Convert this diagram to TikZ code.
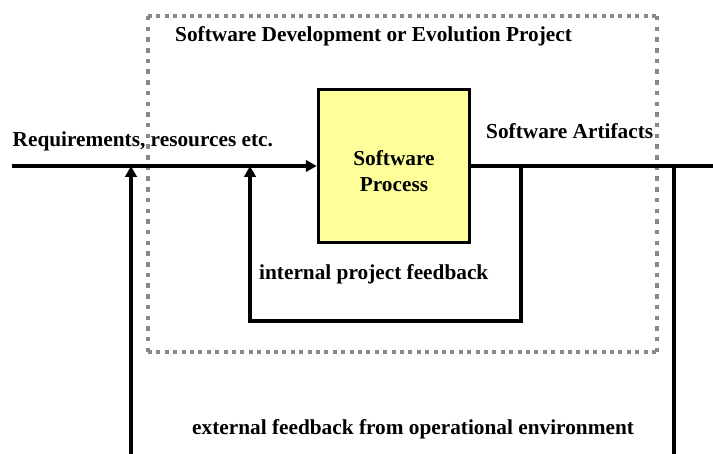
\documentclass[tikz,border=0pt]{standalone}
\usepackage{fontspec}
\setmainfont{Liberation Serif}
\usetikzlibrary{arrows.meta}
\definecolor{procfill}{RGB}{255,255,153}
\definecolor{projgray}{RGB}{136,136,136}
\begin{document}
\begin{tikzpicture}[x=1pt,y=-1pt,
  flow/.style={line width=3.3pt,line join=miter,draw=black},
  arr/.style={flow,-{Triangle[length=11pt,width=11.5pt]}},
  projh/.style={draw=projgray,line width=4pt,dash pattern=on 4pt off 4.4pt},
  projv/.style={draw=projgray,line width=4.3pt,dash pattern=on 4.5pt off 6.2pt},
  lbl/.style={font=\fontsize{21.3}{25.5}\selectfont\bfseries,inner sep=0pt,anchor=base west},
  procbox/.style={draw=black,line width=3.5pt,fill=procfill,minimum width=151pt,
    minimum height=153pt,inner sep=0pt},
  proctext/.style={align=center,inner sep=0pt,
    font=\fontsize{21.3}{25.5}\selectfont\bfseries}]
\useasboundingbox (0,0) rectangle (713,454);

% project boundary: dotted frame
\coordinate (pTL) at (148,16);
\coordinate (pTR) at (657,16);
\coordinate (pBL) at (148,352);
\coordinate (pBR) at (657,352);
\draw[projh] (pTL) -- (pTR);
\draw[projh] (pBL) -- (pBR);
\draw[projv] (pTL) -- (pBL);
\draw[projv] (pTR) -- (pBR);

% process box
\node[procbox] (proc) at (394,166) {};
\node[proctext] (proclbl) at (394,171) {Software\\Process};

% connector end points
\coordinate (reqstart) at (12,166);
\coordinate (outend) at (713,166);
\coordinate (fbR) at (521,166);
\coordinate (fbL) at (250,166);
\coordinate (fbBot) at (250,321);
\coordinate (exR) at (674,166);
\coordinate (exRb) at (674,454);
\coordinate (exL) at (131,166);
\coordinate (exLb) at (131,454);

% main flow
\draw[arr] (reqstart) -- (proc.west);
\draw[flow] (proc.east) -- (outend);

% internal project feedback loop
\draw[arr] (fbR) -- (fbR |- fbBot) -- (fbBot) -- (fbL);

% external feedback
\draw[flow] (exR) -- (exRb);
\draw[arr] (exLb) -- (exL);

% labels
\node[lbl] (ttl) at (175,42) {Software Development or Evolution Project};
\node[lbl] (req) at (12.5,147) {Requirements, resources etc.};
\node[lbl] (art) at (486,139) {Software Artifacts};
\node[lbl] (ifb) at (259,280) {internal project feedback};
\node[lbl] (efb) at (192,435) {external feedback from operational environment};
\end{tikzpicture}
\end{document}
